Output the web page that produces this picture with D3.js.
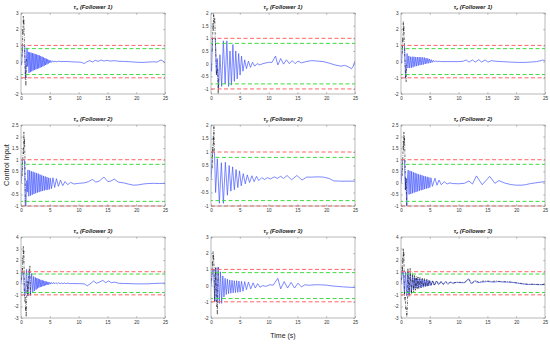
<!DOCTYPE html>
<html>
<head>
<meta charset="utf-8">
<script src="https://cdn.jsdelivr.net/npm/d3@7"></script>
<style>
body { margin: 0; background: #fff; }
text { font-family: "Liberation Sans", Arial, sans-serif; }
</style>
</head>
<body>
<script>
// applied control input (blue) and commanded input (black dash-dot), [time, value]
let tauF1x = [[0,0],[0.1,-0.2],[0.2,0.3],[0.3,1],[0.65,1],[0.8,-1],[0.95,0.2],[1.05,0.85],[1.15,-0.3],
  [1.27,0.6],[1.39,-0.7],[1.51,0.58],[1.63,-0.65],[1.75,0.55],[1.87,-0.6],[1.99,0.52],[2.11,-0.55],[2.23,0.5],[2.35,-0.52],
  [2.47,0.47],[2.59,-0.48],[2.71,0.44],[2.83,-0.45],[2.95,0.41],[3.07,-0.42],[3.19,0.38],[3.31,-0.38],[3.43,0.34],[3.55,-0.34],
  [3.67,0.3],[3.79,-0.3],[3.91,0.26],[4.03,-0.26],[4.15,0.22],[4.27,-0.21],[4.39,0.18],[4.51,-0.17],[4.63,0.14],[4.75,-0.12],
  [4.87,0.1],[5.0,-0.08],[5.15,0.07],[5.3,-0.05],[5.5,0.05],[5.7,-0.03],[5.9,0.03],[6.2,-0.01],[6.5,0.02],[7,0],[8,0.01],
  [9,-0.02],[10,-0.03],[10.5,-0.05],[11,-0.12],[11.4,-0.02],[11.9,0.06],[12.4,-0.02],[12.9,0.08],[13.4,0.01],[13.9,0.1],
  [14.4,0.03],[14.9,0.08],[15.5,0.03],[16.2,0.06],[17,0.02],[18,0.01],[19,-0.01],[20,-0.04],[21,-0.05],[22,-0.03],[23,-0.01],
  [23.6,-0.03],[24.3,0.1],[24.7,0.02],[25,-0.1]];
let cmdF1x = [[0.15,0.3],[0.25,1.2],[0.3,2.0],[0.35,1.7],[0.4,2.8],[0.45,2.3],[0.5,2.6],[0.6,1.0],[0.75,-1.0],[0.85,-1.5],[0.95,0.2]];

let tauF1y = [[0,0],[0.1,-0.3],[0.25,1],[0.75,1],[0.95,-0.45],[1.1,0.2],[1.3,-1.0],[1.55,0.35],[1.85,-0.9],[2.15,0.9],
  [2.45,-0.8],[2.75,0.9],[3.05,-0.9],[3.3,0.5],[3.55,-0.85],[3.8,0.75],[4.05,-0.7],[4.3,0.5],[4.55,-0.6],[4.8,0.4],[5.05,-0.45],
  [5.3,0.3],[5.55,-0.3],[5.85,0.15],[6.15,-0.2],[6.5,0.1],[6.85,-0.15],[7.2,0.05],[7.6,-0.1],[8.0,0.0],[8.5,-0.05],[9,0.0],
  [10,0.05],[10.6,0.05],[11.2,0.3],[11.6,-0.05],[12.1,0.2],[12.6,-0.02],[13.1,0.15],[13.6,0.0],[14.1,0.12],[14.6,0.0],[15.1,0.1],
  [15.7,0.03],[16.5,0.08],[17.5,0.12],[18.5,0.1],[19.5,0.08],[20.5,0.02],[21.5,-0.05],[22.5,-0.1],[23.2,-0.07],[23.8,-0.12],
  [24.4,-0.2],[24.7,-0.1],[25,0.1]];
let cmdF1y = [[0.2,0.5],[0.3,1.2],[0.35,1.6],[0.4,1.3],[0.45,2.0],[0.55,1.6],[0.65,1.8],[0.75,1.0],[0.95,-0.45],[1.15,-0.2],[1.25,-1.2],[1.35,-0.6]];

let tauF1z = [[0,0],[0.1,-0.1],[0.25,1],[0.6,1],[0.8,-1],[0.95,-0.2],[1.05,0.5],[1.2,-0.4],[1.35,0.35],[1.5,-0.4],[1.65,0.3],
  [1.8,-0.38],[1.95,0.3],[2.1,-0.35],[2.25,0.3],[2.4,-0.3],[2.55,0.28],[2.7,-0.28],[2.85,0.28],[3.0,-0.25],[3.15,0.28],[3.3,-0.22],
  [3.45,0.27],[3.6,-0.2],[3.75,0.26],[3.9,-0.18],[4.05,0.25],[4.2,-0.15],[4.35,0.22],[4.5,-0.12],[4.65,0.2],[4.8,-0.1],[4.95,0.16],
  [5.1,-0.08],[5.25,0.12],[5.4,-0.05],[5.6,0.08],[5.8,-0.03],[6.0,0.05],[6.3,0.0],[6.6,0.02],[7,0.0],[8,0.0],[9,0.0],[10,0.0],
  [10.8,0.02],[11.3,0.1],[11.8,-0.03],[12.4,0.1],[12.9,-0.03],[13.5,0.12],[14.0,-0.03],[14.6,0.1],[15.1,-0.03],[15.7,0.06],
  [16.5,0.02],[17.5,0.0],[18.5,-0.02],[19.5,-0.04],[20.5,-0.05],[21.5,-0.05],[22.5,-0.03],[23.5,0.0],[24.3,0.06],[24.6,0.1],[25,0.05]];
let cmdF1z = [[0.2,0.5],[0.3,1.5],[0.35,1.2],[0.4,2.5],[0.45,1.8],[0.5,2.2],[0.6,1.0],[0.8,-1.0],[0.9,-1.25],[0.95,-0.2]];

let tauF2x = [[0,0],[0.1,0.2],[0.25,1],[0.6,1],[0.75,-1],[0.85,-1],[1.0,0.1],[1.1,-0.4],[1.2,0.56],[1.35,-0.58],[1.5,0.54],
  [1.65,-0.55],[1.8,0.5],[1.95,-0.52],[2.1,0.48],[2.25,-0.48],[2.4,0.45],[2.55,-0.45],[2.7,0.42],[2.85,-0.42],[3.0,0.4],[3.15,-0.4],
  [3.3,0.36],[3.45,-0.37],[3.6,0.33],[3.75,-0.35],[3.9,0.3],[4.05,-0.33],[4.2,0.28],[4.35,-0.31],[4.5,0.25],[4.65,-0.3],[4.8,0.22],
  [4.95,-0.28],[5.1,0.2],[5.3,-0.25],[5.55,0.22],[5.85,-0.2],[6.15,0.18],[6.5,-0.15],[6.85,0.12],[7.25,-0.12],[7.65,0.06],
  [8.1,-0.08],[8.6,0.02],[9.2,-0.05],[10,-0.02],[11,0.0],[11.7,0.05],[12.4,0.15],[13.0,0.03],[13.6,0.08],[14.4,0.25],[15.1,0.05],
  [15.6,0.08],[16.2,0.16],[16.9,0.03],[17.8,0.0],[18.6,-0.05],[19.5,-0.1],[20.3,-0.09],[21.2,-0.05],[22,-0.03],[23,-0.02],
  [24,-0.03],[25,-0.02]];
let cmdF2x = [[0.2,0.3],[0.3,1.0],[0.4,1.5],[0.45,1.25],[0.5,2.2],[0.55,1.6],[0.6,1.9],[0.7,1.0],[0.75,-1.0]];

let tauF2y = [[0,0],[0.1,0.3],[0.25,1],[0.6,1],[0.8,-0.5],[1.1,0.75],[1.45,-0.9],[1.8,0.6],[2.15,-0.9],[2.5,0.62],[2.85,-0.6],
  [3.15,0.5],[3.45,-0.45],[3.75,0.45],[4.05,-0.4],[4.35,0.35],[4.65,-0.32],[4.95,0.3],[5.25,-0.25],[5.6,0.2],[5.95,-0.18],
  [6.3,0.15],[6.7,-0.13],[7.1,0.12],[7.5,-0.1],[7.9,0.1],[8.3,-0.06],[8.8,0.05],[9.3,-0.02],[9.8,0.05],[10.3,0.0],[11,0.08],
  [11.5,0.02],[12.1,0.1],[12.6,0.02],[13.2,0.13],[14.0,-0.03],[14.9,0.13],[15.8,-0.04],[16.6,0.07],[17.5,0.07],[18.5,0.08],
  [19.5,0.07],[20.5,0.02],[21.3,-0.07],[22.5,-0.08],[25,-0.08]];
let cmdF2y = [[0.2,0.4],[0.3,1.2],[0.35,1.0],[0.4,1.6],[0.45,1.3],[0.5,2.0],[0.55,1.5],[0.6,1.0]];

let tauF2z = [[0,0],[0.1,0.2],[0.25,1],[0.6,1],[0.75,-0.3],[0.85,0.2],[1.0,-1.0],[1.15,0.3],[1.25,0.55],[1.4,-0.5],[1.55,0.52],
  [1.7,-0.48],[1.85,0.5],[2.0,-0.45],[2.15,0.46],[2.3,-0.42],[2.45,0.43],[2.6,-0.4],[2.75,0.4],[2.9,-0.37],[3.05,0.37],[3.2,-0.34],
  [3.35,0.35],[3.5,-0.32],[3.65,0.33],[3.8,-0.3],[3.95,0.3],[4.1,-0.27],[4.25,0.28],[4.4,-0.25],[4.55,0.26],[4.7,-0.23],[4.85,0.24],
  [5.0,-0.2],[5.2,0.22],[5.45,-0.15],[5.9,0.2],[6.25,-0.1],[6.6,0.12],[7.0,-0.08],[7.5,0.05],[8.0,-0.05],[8.5,0.0],[9,-0.03],
  [10,-0.04],[11,-0.02],[11.8,0.08],[12.4,-0.05],[13.1,0.3],[14.1,-0.08],[15.4,0.28],[16.3,-0.02],[17,0.1],[17.9,0.0],[19,-0.07],
  [19.9,-0.1],[21,-0.1],[21.6,-0.08],[22.5,-0.03],[23.4,0.0],[24.2,0.03],[25,0.05]];
let cmdF2z = [[0.2,0.3],[0.3,1.0],[0.4,1.8],[0.45,1.4],[0.5,2.2],[0.55,1.7],[0.6,2.0],[0.7,1.0],[0.8,-0.3],[0.9,0.2],[1.0,-1.0]];

let tauF3x = [[0,0],[0.1,0.5],[0.2,0.9],[0.45,0.9],[0.6,-1.1],[0.75,-1.0],[0.95,1.2],[1.2,-1.1],[1.45,1.1],[1.65,-1.05],[1.85,0.85],
  [2.05,-0.8],[2.2,0.6],[2.35,-0.65],[2.5,0.5],[2.62,-0.55],[2.74,0.45],[2.86,-0.45],[2.98,0.4],[3.1,-0.38],[3.22,0.35],[3.34,-0.33],
  [3.46,0.3],[3.58,-0.29],[3.7,0.26],[3.82,-0.25],[3.94,0.22],[4.06,-0.21],[4.18,0.18],[4.3,-0.17],[4.42,0.15],[4.54,-0.14],
  [4.66,0.12],[4.78,-0.11],[4.9,0.1],[5.05,-0.08],[5.25,0.08],[5.45,-0.06],[5.65,0.07],[5.85,-0.05],[6.05,0.06],[6.3,-0.05],
  [6.55,0.05],[6.8,-0.05],[7.05,0.04],[7.3,-0.04],[7.55,0.03],[7.8,-0.04],[8.1,0.02],[8.5,-0.03],[9,-0.02],[10,-0.03],[11,-0.05],
  [11.5,-0.22],[12.0,-0.05],[12.6,0.2],[13.1,0.0],[13.6,0.1],[14.2,0.25],[14.7,0.05],[15.2,0.2],[15.7,0.05],[16.2,0.1],[17,0.0],
  [18,-0.02],[19,-0.03],[20,-0.05],[21,-0.05],[22,-0.05],[23,-0.02],[24,0.0],[25,0.02]];
let cmdF3x = [[0.1,0.3],[0.2,1.3],[0.25,1.0],[0.3,2.2],[0.35,1.8],[0.4,3.2],[0.45,2.5],[0.5,2.8],[0.6,-1.1],[0.7,-1.6],
  [0.75,-1.2],[0.8,-2.4],[0.85,-2.0],[0.9,-2.9],[1.05,0.2],[1.2,-1.1],[1.4,1.3],[1.5,1.1],[1.55,1.5],[1.65,-1.05]];

let tauF3y = [[0,0],[0.1,0.3],[0.25,1],[0.45,1],[0.65,-1.0],[0.85,1.1],[1.05,-1.0],[1.25,1.15],[1.45,-1.1],[1.65,0.85],
  [1.85,-1.1],[2.05,0.6],[2.25,-0.7],[2.45,0.45],[2.65,-0.55],[2.85,0.4],[3.05,-0.5],[3.25,0.35],[3.45,-0.47],[3.65,0.33],
  [3.85,-0.45],[4.05,0.3],[4.25,-0.43],[4.45,0.3],[4.65,-0.42],[4.85,0.28],[5.05,-0.4],[5.3,0.27],[5.55,-0.35],[5.85,0.25],
  [6.15,-0.25],[6.5,0.22],[6.9,-0.2],[7.3,0.17],[7.7,-0.15],[8.1,0.12],[8.5,-0.1],[9.0,0.0],[9.5,-0.05],[10.2,0.05],[10.8,0.03],
  [11.6,0.45],[12.1,-0.2],[12.7,0.25],[13.3,-0.15],[13.9,0.2],[14.5,-0.15],[15.1,0.15],[15.7,-0.08],[16.3,0.05],[17,0.02],
  [18,0.05],[19,0.05],[20,0.03],[21,-0.02],[22,-0.05],[23,-0.08],[24,-0.1],[25,-0.12]];
let cmdF3y = [[0.1,0.3],[0.2,1.0],[0.25,1.5],[0.3,1.2],[0.35,2.1],[0.4,1.6],[0.45,1.9],[0.55,1.0],[0.65,-1.0],[0.8,1.1],
  [0.95,-0.9],[1.0,-1.3],[1.05,-1.1],[1.1,-1.8],[1.25,1.15]];

let tauF3z = [[0,0],[0.1,0.4],[0.25,1],[0.4,1],[0.6,-1],[0.8,1],[1.0,-1.1],[1.2,1.05],[1.4,-1.0],[1.6,0.8],[1.8,-0.8],[2.0,0.6],
  [2.15,-0.55],[2.3,0.5],[2.45,-0.45],[2.6,0.45],[2.75,-0.4],[2.9,0.42],[3.05,-0.38],[3.2,0.4],[3.35,-0.35],[3.5,0.36],[3.65,-0.32],
  [3.8,0.33],[3.95,-0.3],[4.1,0.3],[4.25,-0.28],[4.4,0.28],[4.55,-0.25],[4.7,0.25],[4.85,-0.22],[5.0,0.22],[5.2,-0.2],[5.45,0.2],
  [5.75,-0.15],[6.1,0.18],[6.5,-0.1],[6.9,0.15],[7.3,-0.08],[7.7,0.12],[8.1,-0.05],[8.5,0.1],[9.0,0.0],[9.6,0.08],[10.3,0.05],
  [11.0,0.05],[11.7,0.4],[12.2,-0.05],[12.8,0.2],[13.3,0.05],[14,0.1],[15,0.15],[16,0.1],[17,0.15],[18,0.1],[19,0.1],[20,0.03],
  [21,-0.05],[22,-0.1],[23,-0.1],[24,-0.12],[25,-0.12]];
let cmdF3z = [[0.1,0.3],[0.2,1.5],[0.25,1.0],[0.3,2.2],[0.35,1.8],[0.4,3.0],[0.45,2.3],[0.5,2.7],[0.6,-1.0],[0.7,-1.5],
  [0.75,-1.2],[0.8,-2.2],[0.9,-2.0],[1.0,-2.9],[1.1,-2.4],[1.2,1.3],[1.4,-1.2],[1.6,1.3],[1.8,-0.95],[2.0,0.9],[2.2,-0.8],
  [2.35,0.7],[2.5,-0.6],[2.65,0.6],[2.8,-0.5],[2.95,0.55],[3.1,-0.45],[3.3,0.5],[3.5,-0.4],[3.7,0.45],[3.9,-0.35],[4.1,0.4],
  [4.3,-0.3],[4.5,0.35],[4.7,-0.28],[4.9,0.3],[5.2,-0.2],[5.5,0.25],[5.8,-0.2],[6.2,0.22],[6.6,-0.15],[7.0,0.2],[7.4,-0.12],
  [7.8,0.15],[8.2,-0.1],[8.6,0.12],[9.1,0.02],[9.7,0.1],[10.4,0.08],[11.1,0.08],[11.8,0.35],[12.3,0.0],[12.9,0.25],[13.5,0.1],
  [14.2,0.18],[15.0,0.2],[15.8,0.15],[16.6,0.2],[17.4,0.12],[18.2,0.15],[19,0.1],[20,0.05],[21,-0.02],[22,-0.08],[23,-0.08],
  [24,-0.1],[25,-0.1]];

// axis limits and tick labels of each panel, row by row
let yLims = [[-2,3],[-1.2,2],[-2,3],[-1,2.5],[-1,2],[-1,2.5],[-3,4],[-2,3],[-3,4]];
let yTicks = [
  [-2,-1,0,1,2,3], [-1,-0.5,0,0.5,1,1.5,2], [-2,-1,0,1,2,3],
  [-1,-0.5,0,0.5,1,1.5,2,2.5], [-1,-0.5,0,0.5,1,1.5,2], [-1,-0.5,0,0.5,1,1.5,2,2.5],
  [-3,-2,-1,0,1,2,3,4], [-2,-1,0,1,2,3], [-3,-2,-1,0,1,2,3,4]];
let xTicks = [0,5,10,15,20,25];
let axisNames = ["x","y","z"];
let followers = [1,2,3];

// input bounds: saturation (red) and safety margin (green)
let satLevels = [1,-1];
let marginLevels = [0.8,-0.8];

let taus = [tauF1x,tauF1y,tauF1z,tauF2x,tauF2y,tauF2z,tauF3x,tauF3y,tauF3z];
let cmds = [cmdF1x,cmdF1y,cmdF1z,cmdF2x,cmdF2y,cmdF2z,cmdF3x,cmdF3y,cmdF3z];

// layout of the 3x3 grid
let colLeft = [21, 211, 401];
let rowTop = [13, 125, 237];
let plotW = 144, plotH = 81;

let svg = d3.select("body").append("svg")
  .attr("width", 550)
  .attr("height", 345);

let x = d3.scaleLinear().domain([0, 25]).range([0, plotW]);

for (let i = 0; i < 9; i++) {
  let r = Math.floor(i / 3), c = i % 3;
  let y = d3.scaleLinear().domain(yLims[i]).range([plotH, 0]);

  let g = svg.append("g")
    .attr("transform", "translate(" + colLeft[c] + "," + rowTop[r] + ")");

  g.append("clipPath").attr("id", "clip" + i)
    .append("rect").attr("x", 0).attr("y", -0.5).attr("width", plotW).attr("height", plotH + 1);

  let line = d3.line()
    .x(function(d) { return x(d[0]); })
    .y(function(d) { return y(d[1]); });

  // applied input
  g.append("path")
    .datum(taus[i])
    .attr("clip-path", "url(#clip" + i + ")")
    .attr("fill", "none")
    .attr("stroke", "#4557ff")
    .attr("stroke-width", 0.7)
    .attr("d", line);

  // commanded input
  g.append("path")
    .datum(cmds[i])
    .attr("clip-path", "url(#clip" + i + ")")
    .attr("fill", "none")
    .attr("stroke", "#111")
    .attr("stroke-width", 0.6)
    .attr("stroke-dasharray", "2.5,1.2,0.6,1.2")
    .attr("d", line);

  // bound lines
  satLevels.forEach(function(v) {
    g.append("path")
      .datum([[0, v], [25, v]])
      .attr("fill", "none")
      .attr("stroke", "#ff6464")
      .attr("stroke-width", 1)
      .attr("stroke-dasharray", "4,2.5")
      .attr("d", line);
  });
  marginLevels.forEach(function(v) {
    g.append("path")
      .datum([[0, v], [25, v]])
      .attr("fill", "none")
      .attr("stroke", "#3fdc3f")
      .attr("stroke-width", 1)
      .attr("stroke-dasharray", "4,2.5")
      .attr("stroke-dashoffset", 2)
      .attr("d", line);
  });

  // axes, ticks pointing inward like matlab
  let fmt = function(d) { return String(d); };
  let bottom = g.append("g")
    .attr("transform", "translate(0," + plotH + ")")
    .call(d3.axisBottom(x).tickValues(xTicks).tickSize(-1.8).tickPadding(2.5).tickFormat(fmt));
  let left = g.append("g")
    .call(d3.axisLeft(y).tickValues(yTicks[i]).tickSize(-1.8).tickPadding(2.5).tickFormat(fmt));
  let top = g.append("g")
    .call(d3.axisTop(x).tickValues(xTicks).tickSize(-1.8).tickFormat(""));
  let right = g.append("g")
    .attr("transform", "translate(" + plotW + ",0)")
    .call(d3.axisRight(y).tickValues(yTicks[i]).tickSize(-1.8).tickFormat(""));

  [bottom, left, top, right].forEach(function(a) {
    a.select(".domain").remove();
    a.selectAll("line").attr("stroke", "#777").attr("stroke-width", 0.5);
    a.selectAll("text").attr("font-size", 4.6).attr("fill", "#333")
      .style("font-family", "'Liberation Sans', Arial, sans-serif");
  });

  g.append("rect")
    .attr("width", plotW).attr("height", plotH)
    .attr("fill", "none")
    .attr("stroke", "#8a8a8a")
    .attr("stroke-width", 0.6);

  // panel title
  let t = g.append("text")
    .attr("x", plotW / 2)
    .attr("y", -4)
    .attr("text-anchor", "middle")
    .attr("font-size", 5.8)
    .attr("font-weight", "bold")
    .attr("font-style", "italic")
    .attr("fill", "#222");
  t.append("tspan").text("\u03c4");
  t.append("tspan").attr("font-size", 4.2).attr("dy", 1.2).text(axisNames[c]);
  t.append("tspan").attr("dy", -1.2).text(" (Follower " + followers[r] + ")");
}

// shared axis labels
svg.append("text")
  .attr("transform", "translate(9,165) rotate(-90)")
  .attr("text-anchor", "middle")
  .attr("font-size", 7.3)
  .attr("fill", "#222")
  .text("Control Input");

svg.append("text")
  .attr("x", colLeft[1] + plotW / 2)
  .attr("y", 338)
  .attr("text-anchor", "middle")
  .attr("font-size", 7)
  .attr("fill", "#222")
  .text("Time (s)");
</script>
</body>
</html>
